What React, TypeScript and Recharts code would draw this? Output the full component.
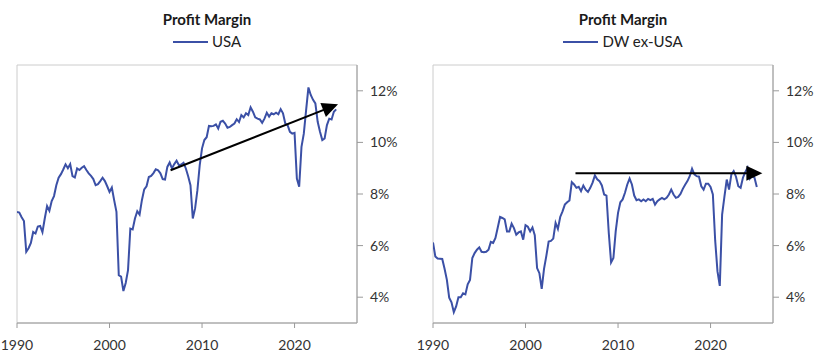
import React from 'react';
import { LineChart, Line, XAxis, YAxis, ReferenceLine, ReferenceArea } from 'recharts';

// Quarterly observations starting 1990 Q1
const START_YEAR = 1990;

const usaValues = [
  7.30, 7.28, 7.10, 6.95, 5.76, 5.90, 6.10, 6.53, 6.47, 6.74, 6.76, 6.52,
  7.05, 7.53, 7.35, 7.73, 7.92, 8.34, 8.63, 8.77, 8.95, 9.15, 9.00, 9.16,
  8.69, 8.64, 8.99, 8.93, 9.02, 9.08, 8.93, 8.80, 8.70, 8.58, 8.34, 8.38,
  8.50, 8.63, 8.50, 8.30, 8.08, 8.25, 7.76, 7.31, 4.85, 4.80, 4.24, 4.55,
  5.05, 6.66, 6.63, 7.05, 7.33, 7.20, 7.76, 8.18, 8.30, 8.66, 8.70, 8.81,
  8.96, 8.92, 8.80, 8.58, 8.56, 9.05, 9.22, 8.99, 9.16, 9.29, 9.12, 9.14,
  9.21, 8.99, 8.69, 8.34, 7.05, 7.44, 8.15, 9.12, 9.77, 10.09, 10.20, 10.64,
  10.63, 10.64, 10.70, 10.54, 10.80, 10.84, 10.73, 10.57, 10.60, 10.67, 10.73, 10.90,
  10.79, 11.06, 10.97, 11.13, 11.06, 11.36, 11.19, 10.97, 10.92, 10.89, 10.76, 10.92,
  11.15, 11.00, 11.13, 11.09, 11.15, 11.09, 11.29, 11.13, 10.73, 10.67, 10.41, 10.34,
  10.37, 8.60, 8.28, 9.83, 10.34, 11.25, 12.13, 11.84, 11.65, 11.51, 10.80, 10.41,
  10.09, 10.15, 10.67, 10.92, 10.89, 11.19, 11.28,
];

const dwValues = [
  6.12, 5.58, 5.50, 5.49, 5.48, 5.10, 4.67, 3.98, 3.80, 3.42, 3.64, 4.00,
  4.00, 4.15, 4.11, 4.50, 4.67, 5.52, 5.71, 5.84, 5.93, 5.76, 5.74, 5.76,
  5.84, 6.14, 6.10, 6.30, 6.70, 7.11, 7.07, 7.02, 6.55, 6.55, 6.85, 6.68,
  6.42, 6.51, 6.55, 6.23, 6.79, 6.73, 6.55, 6.70, 6.40, 5.13, 4.93, 4.32,
  5.10, 5.60, 6.16, 6.18, 6.27, 6.88, 6.65, 7.11, 7.33, 7.59, 7.68, 7.75,
  8.46, 8.37, 8.24, 8.28, 8.11, 8.33, 8.17, 8.08, 8.24, 8.44, 8.72, 8.57,
  8.50, 8.33, 7.98, 7.94, 6.49, 5.35, 5.52, 6.56, 7.27, 7.68, 7.79, 8.05,
  8.37, 8.60, 8.37, 7.94, 7.76, 7.79, 7.72, 7.79, 7.72, 7.81, 7.76, 7.81,
  7.59, 7.72, 7.79, 7.85, 7.79, 7.85, 7.98, 8.17, 7.98, 7.85, 7.89, 8.00,
  8.20, 8.36, 8.50, 8.69, 8.98, 8.76, 8.69, 8.67, 8.30, 8.17, 8.40, 8.40,
  8.27, 7.98, 6.20, 5.00, 4.44, 7.20, 7.90, 8.56, 8.17, 8.76, 8.89, 8.67,
  8.30, 8.24, 8.63, 8.85, 9.02, 8.60, 8.72, 8.63, 8.27,
];

const xTicks = [1990, 2000, 2010, 2020];
const yTicks = [4, 6, 8, 10, 12];
const X_DOMAIN: [number, number] = [1990, 2026.75];
const Y_DOMAIN: [number, number] = [3, 13];

// [x1, y1, x2 (tip), y2 (tip)]
const usaArrow = [2006.6, 8.92, 2024.7, 11.48];
const dwArrow = [2005.4, 8.8, 2025.6, 8.8];

const chartTitle = 'Profit Margin';
const seriesNames = ['USA', 'DW ex-USA'];

const LINE_COLOR = '#3b50a6';
const FONT = 'Lato, "Open Sans", sans-serif';

function toRows(values: number[]) {
  return values.map((v, i) => ({ t: START_YEAR + i / 4, v }));
}

const ArrowShape = (props: any) => {
  const { x1, y1, x2, y2 } = props;
  const dx = x2 - x1;
  const dy = y2 - y1;
  const len = Math.hypot(dx, dy) || 1;
  const ux = dx / len;
  const uy = dy / len;
  const headLen = 16;
  const headHalf = 7.5;
  const bx = x2 - ux * headLen;
  const by = y2 - uy * headLen;
  const px = -uy;
  const py = ux;
  const pts = `${x2},${y2} ${bx + px * headHalf},${by + py * headHalf} ${bx - px * headHalf},${by - py * headHalf}`;
  return (
    <g>
      <line x1={x1} y1={y1} x2={bx + ux * 2} y2={by + uy * 2} stroke="#000" strokeWidth={2} />
      <polygon points={pts} fill="#000" />
    </g>
  );
};

function Panel({ left, values, arrow, name }: { left: number; values: number[]; arrow: number[]; name: string }) {
  const data = toRows(values);
  return (
    <div style={{ position: 'absolute', left, top: 0, width: 420, height: 362, fontFamily: FONT }}>
      <div
        style={{
          position: 'absolute', left: 0, top: 10, width: 414, textAlign: 'center',
          fontWeight: 700, fontSize: 15, lineHeight: '18px', color: '#1a1a1a',
        }}
      >
        {chartTitle}
      </div>
      <div
        style={{
          position: 'absolute', left: 0, top: 32, width: 414, display: 'flex',
          justifyContent: 'center', alignItems: 'center', fontSize: 15, lineHeight: '18px', color: '#222',
        }}
      >
        <span style={{ display: 'inline-block', width: 35, height: 2, background: LINE_COLOR, marginRight: 4, marginTop: 1 }} />
        <span>{name}</span>
      </div>
      <div style={{ position: 'absolute', left: 0, top: 0 }}>
        <LineChart width={420} height={362} data={data} margin={{ top: 65, right: 13, bottom: 9, left: 17 }}>
          <ReferenceArea
            x1={X_DOMAIN[0]} x2={X_DOMAIN[1]} y1={Y_DOMAIN[0]} y2={Y_DOMAIN[1]}
            fill="none" stroke="#cccccc" strokeWidth={1} fillOpacity={0}
          />
          <XAxis
            dataKey="t" type="number" domain={X_DOMAIN} ticks={xTicks} allowDataOverflow
            height={30} tickSize={5} tickMargin={12}
            axisLine={{ stroke: '#9a9a9a' }} tickLine={{ stroke: '#9a9a9a' }}
            tick={{ fill: '#333', fontSize: 14, fontFamily: FONT }}
          />
          <YAxis
            orientation="right" type="number" domain={Y_DOMAIN} ticks={yTicks} allowDataOverflow
            width={50} tickSize={6} tickMargin={7}
            tickFormatter={(v: number) => `${v}%`}
            axisLine={{ stroke: '#9a9a9a' }} tickLine={{ stroke: '#9a9a9a' }}
            tick={{ fill: '#333', fontSize: 14, fontFamily: FONT, textAnchor: 'start' }}
          />
          <Line
            dataKey="v" type="linear" stroke={LINE_COLOR} strokeWidth={2}
            dot={false} activeDot={false} isAnimationActive={false}
          />
          <ReferenceLine
            segment={[{ x: arrow[0], y: arrow[1] }, { x: arrow[2], y: arrow[3] }]}
            stroke="#000" strokeWidth={2} shape={ArrowShape} ifOverflow="visible"
          />
        </LineChart>
      </div>
    </div>
  );
}

export default function App() {
  return (
    <div style={{ position: 'absolute', left: 0, top: 0, width: 840, height: 362, background: '#fff' }}>
      <Panel left={0} values={usaValues} arrow={usaArrow} name={seriesNames[0]} />
      <Panel left={416} values={dwValues} arrow={dwArrow} name={seriesNames[1]} />
    </div>
  );
}
